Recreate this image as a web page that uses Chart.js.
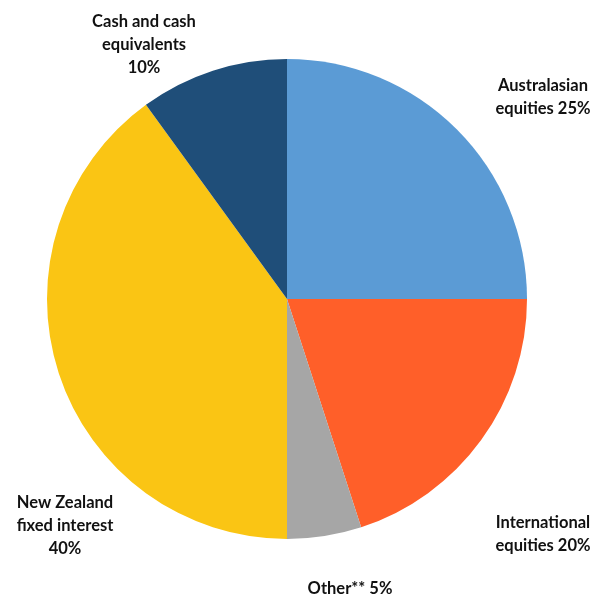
<!DOCTYPE html>
<html>
<head>
<meta charset="utf-8">
<script src="https://cdn.jsdelivr.net/npm/chart.js@4"></script>
<style>
html,body{margin:0;padding:0;background:#fff;}
#wrap{width:598px;height:597px;position:relative;}
</style>
</head>
<body>
<div id="wrap"><canvas id="c" width="598" height="597"></canvas></div>
<script>
const categories = ["Australasian equities", "International equities", "Other**", "New Zealand fixed interest", "Cash and cash equivalents"];
const values = [25, 20, 5, 40, 10];
const labelLines = [
  ["Australasian", "equities 25%"],
  ["International", "equities 20%"],
  ["Other** 5%"],
  ["New Zealand", "fixed interest", "40%"],
  ["Cash and cash", "equivalents", "10%"]
];
const colors = ["#5B9BD5", "#FF5F29", "#A6A6A6", "#FAC514", "#1F4E79"];
// label anchor (center x, first line y) in pixels relative to pie center
const labelAnchor = [[256, -213], [256, 224], [63, 290], [-222, 204], [-143, -277]];

const labelPlugin = {
  id: 'outLabels',
  afterDraw(chart) {
    const ctx = chart.ctx;
    const arc = chart.getDatasetMeta(0).data[0];
    const cx = arc.x, cy = arc.y;
    ctx.save();
    ctx.font = "bold 16.5px Lato, 'Open Sans', sans-serif";
    ctx.fillStyle = "#111111";
    ctx.textAlign = "center";
    ctx.textBaseline = "middle";
    labelLines.forEach((lines, i) => {
      const [dx, dy] = labelAnchor[i];
      lines.forEach((t, j) => ctx.fillText(t, cx + dx, cy + dy + j * 23));
    });
    ctx.restore();
  }
};

new Chart(document.getElementById('c'), {
  type: 'pie',
  data: {
    labels: categories,
    datasets: [{ data: values, backgroundColor: colors, borderWidth: 0 }]
  },
  options: {
    responsive: false,
    animation: false,
    layout: { padding: { left: 47, right: 71, top: 59, bottom: 58 } },
    plugins: { legend: { display: false }, tooltip: { enabled: false } }
  },
  plugins: [labelPlugin]
});
</script>
</body>
</html>
